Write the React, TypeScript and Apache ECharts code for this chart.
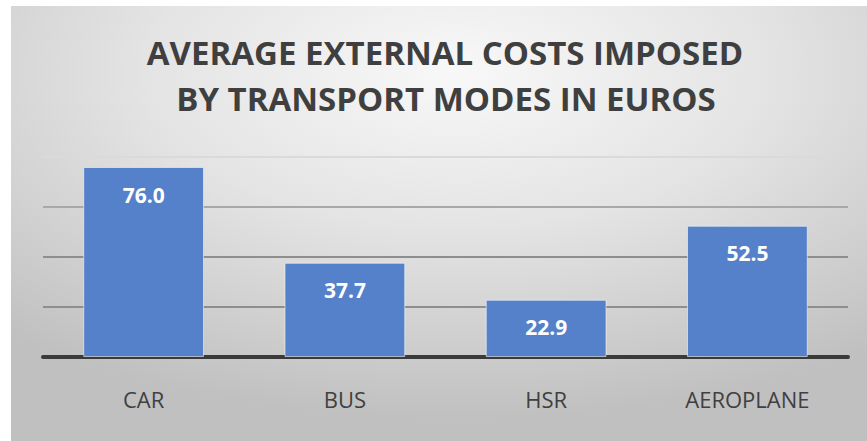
import React, { useEffect, useRef } from "react";
import * as echarts from "echarts";

const categories = ["CAR", "BUS", "HSR", "AEROPLANE"];
const costValues = [76.0, 37.7, 22.9, 52.5];
const titleLines = ["AVERAGE EXTERNAL COSTS IMPOSED", "BY TRANSPORT MODES IN EUROS"];
const yMin = 0;
const yMax = 80;
const yInterval = 20;

export default function App() {
  const ref = useRef<HTMLDivElement>(null);
  useEffect(() => {
    if (!ref.current) return;
    const chart = echarts.init(ref.current, null, { renderer: "svg" });
    const font = "'Open Sans', 'Noto Sans', sans-serif";
    chart.setOption({
      animation: false,
      backgroundColor: "#ffffff",
      graphic: [
        {
          type: "rect",
          z: -10,
          silent: true,
          shape: { x: 11, y: 6, width: 856, height: 435 },
          style: {
            fill: new echarts.graphic.RadialGradient(0.52, 0.15, 0.8, [
              { offset: 0, color: "#f8f8f8" },
              { offset: 0.45, color: "#e4e4e4" },
              { offset: 1, color: "#c0c0c0" },
            ]),
          },
        },
        {
          type: "text",
          x: 445,
          y: 52,
          style: {
            text: titleLines[0],
            fontFamily: font,
            fontWeight: "bold",
            fontSize: 33,
            fill: "#3f3f3f",
            align: "center",
            verticalAlign: "middle",
          },
        },
        {
          type: "text",
          x: 446,
          y: 98,
          style: {
            text: titleLines[1],
            fontFamily: font,
            fontWeight: "bold",
            fontSize: 33,
            fill: "#3f3f3f",
            align: "center",
            verticalAlign: "middle",
          },
        },
      ],
      grid: { left: 43, right: 19, top: 157, bottom: 84 },
      xAxis: {
        type: "category",
        data: categories,
        axisLine: { show: true, lineStyle: { color: "#3a3a3a", width: 4 } },
        axisTick: { show: false },
        axisLabel: {
          margin: 31,
          fontFamily: font,
          fontSize: 22,
          color: "#404040",
        },
      },
      yAxis: {
        type: "value",
        min: yMin,
        max: yMax,
        interval: yInterval,
        axisLabel: { show: false },
        axisLine: { show: false },
        axisTick: { show: false },
        splitLine: {
          show: true,
          lineStyle: {
            color: ["#8e8e8e", "#8e8e8e", "#8e8e8e", "#a8a8a8", "#dadada"],
            width: 2,
          },
        },
      },
      series: [
        {
          type: "bar",
          data: costValues,
          barCategoryGap: "40%",
          itemStyle: {
            color: "#5580CA",
            borderColor: "rgba(255,255,255,0.55)",
            borderWidth: 1,
          },
          label: {
            show: true,
            position: "insideTop",
            distance: 17,
            formatter: (p: any) => Number(p.value).toFixed(1),
            fontFamily: font,
            fontWeight: "bold",
            fontSize: 21,
            color: "#ffffff",
          },
        },
      ],
    });
    return () => chart.dispose();
  }, []);
  return (
    <div
      ref={ref}
      style={{ position: "absolute", left: 0, top: 0, width: 867, height: 441 }}
    />
  );
}
